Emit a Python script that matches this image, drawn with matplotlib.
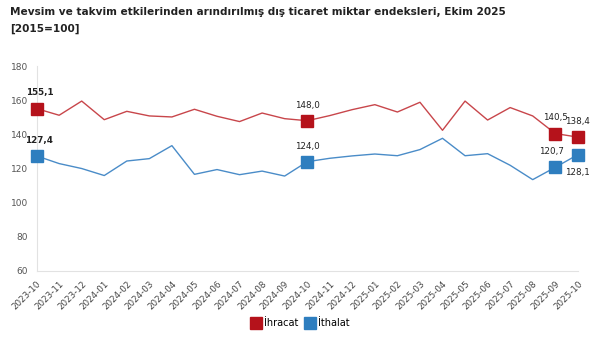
import matplotlib
matplotlib.use("Agg")
import matplotlib.pyplot as plt
from matplotlib.lines import Line2D

months = ["2023-10","2023-11","2023-12","2024-01","2024-02","2024-03","2024-04","2024-05",
          "2024-06","2024-07","2024-08","2024-09","2024-10","2024-11","2024-12","2025-01",
          "2025-02","2025-03","2025-04","2025-05","2025-06","2025-07","2025-08","2025-09","2025-10"]
ihracat = [155.1,151.2,159.5,148.6,153.5,150.8,150.2,154.7,150.6,147.5,152.5,149.2,148.0,
           151.0,154.5,157.4,153.1,158.8,142.4,159.5,148.4,155.7,150.8,140.5,138.4]
ithalat = [127.4,122.9,120.0,115.9,124.4,125.8,133.4,116.6,119.4,116.4,118.5,115.6,124.0,
           126.0,127.4,128.5,127.5,131.1,137.7,127.5,128.7,121.9,113.5,120.7,128.1]
highlight = [0, 12, 23, 24]
yticks = [60, 80, 100, 120, 140, 160, 180]

red = "#B5121B"
red_line = "#C8464B"
blue = "#2E7EBF"
blue_line = "#4A8CC8"

fig = plt.figure(figsize=(6, 3.45), dpi=100)
ax = fig.add_axes([0.061, 0.2145, 0.902, 0.594])
x = list(range(len(months)))
ax.plot(x, ihracat, color=red_line, lw=1.0, zorder=2)
ax.plot(x, ithalat, color=blue_line, lw=1.0, zorder=2)
ax.plot([x[i] for i in highlight], [ihracat[i] for i in highlight], ls="none",
        marker="s", ms=8, color=red, zorder=3, clip_on=False)
ax.plot([x[i] for i in highlight], [ithalat[i] for i in highlight], ls="none",
        marker="s", ms=8, color=blue, zorder=3, clip_on=False)

def fmt(v):
    return f"{v:.1f}".replace(".", ",")

offsets_r = {0: (2, 8), 12: (0, 8), 23: (0, 8), 24: (0, 8)}
offsets_b = {0: (2, 8), 12: (0, 8), 23: (-3, 8), 24: (0, -16)}
for i in highlight:
    dx, dy = offsets_r[i]
    ax.annotate(fmt(ihracat[i]), (x[i], ihracat[i]), xytext=(dx, dy), textcoords="offset points",
                ha="center", va="bottom", fontsize=6.3, fontweight="bold" if i == 0 else "normal",
                color="#222222", annotation_clip=False)
    dx, dy = offsets_b[i]
    ax.annotate(fmt(ithalat[i]), (x[i], ithalat[i]), xytext=(dx, dy), textcoords="offset points",
                ha="center", va="bottom", fontsize=6.3, fontweight="bold" if i == 0 else "normal",
                color="#222222", annotation_clip=False)

ax.set_xlim(0, len(months) - 1)
ax.set_ylim(60, 180)
ax.set_yticks(yticks)
ax.set_yticklabels([str(t) for t in yticks], fontsize=6.5, color="#555555")
ax.set_xticks(x)
ax.set_xticklabels(months, rotation=45, ha="right", rotation_mode="anchor", fontsize=6.3, color="#444444")
ax.tick_params(axis="both", length=0, pad=6)
for s in ["top", "right"]:
    ax.spines[s].set_visible(False)
ax.spines["left"].set_color("#e2e2e2")
ax.spines["bottom"].set_color("#e2e2e2")
ax.spines["left"].set_linewidth(0.8)
ax.spines["bottom"].set_linewidth(0.8)

fig.text(0.017, 0.965, "Mevsim ve takvim etkilerinden arındırılmış dış ticaret miktar endeksleri, Ekim 2025",
         fontsize=7.6, fontweight="bold", color="#222222", va="center")
fig.text(0.017, 0.915, "[2015=100]", fontsize=7.6, fontweight="bold", color="#222222", va="center")

handles = [Line2D([], [], ls="none", marker="s", ms=8, color=red),
           Line2D([], [], ls="none", marker="s", ms=8, color=blue)]
fig.legend(handles, ["İhracat", "İthalat"], loc="center", bbox_to_anchor=(0.5, 0.063), ncol=2,
           frameon=False, fontsize=7, handletextpad=0.2, columnspacing=0.6, handlelength=1.2)

fig.savefig("out.png", dpi=100)
